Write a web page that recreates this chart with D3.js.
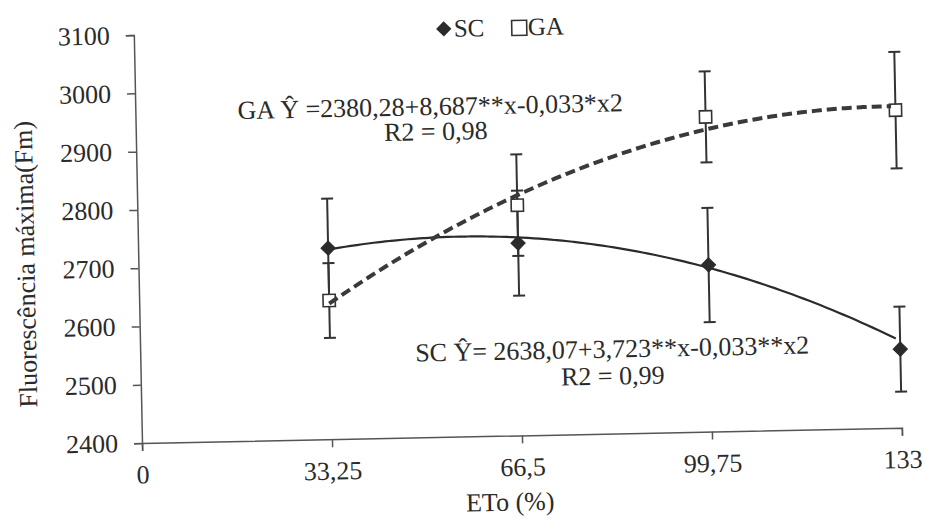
<!DOCTYPE html>
<html>
<head>
<meta charset="utf-8">
<script src="https://cdn.jsdelivr.net/npm/d3@7"></script>
<style>
  body { margin: 0; background: #fff; }
  text { font-family: "Liberation Serif", "Times New Roman", serif; fill: #2a2a2a; }
  .axis path, .axis line { stroke: #555; stroke-width: 1.5; }
  .axis text { font-size: 26px; fill: #2a2a2a; }
</style>
</head>
<body>
<div id="chart"></div>
<script>
// ETo levels (x) and their tick labels
const etoLevels = [33.25, 66.5, 99.75, 133];
const xTicks = [0, 33.25, 66.5, 99.75, 133];
const xTickLabels = ["0", "33,25", "66,5", "99,75", "133"];
const yTicks = [2400, 2500, 2600, 2700, 2800, 2900, 3000, 3100];

// Fm means and error bars
const scValues = [2728, 2730, 2686, 2535];
const scErrors = [85, 90, 98, 73];
const gaValues = [2638, 2795, 2940, 2945];
const gaErrors = [64, 87, 78, 100];

// printed regression coefficients: a + b*x + c*x^2
const scCoef = [2638.07, 3.723, -0.033];
const gaCoef = [2380.28, 8.687, -0.033];

const width = 926, height = 528;

const svg = d3.select("#chart")
    .append("svg")
    .attr("width", width)
    .attr("height", height);

// the source is a slightly tilted scan, so the whole plot is turned a little
const g = svg.append("g")
    .attr("transform", "rotate(-1.15, 142, 443)");

const x = d3.scaleLinear().domain([0, 133]).range([142, 902]);
const y = d3.scaleLinear().domain([2400, 3100]).range([443, 35]);

// Axes
g.append("g")
    .attr("class", "axis")
    .attr("transform", `translate(0,${y(2400)})`)
    .call(d3.axisBottom(x)
        .tickValues(xTicks)
        .tickFormat((d, i) => xTickLabels[i])
        .tickSizeOuter(0)
        .tickSize(8)
        .tickPadding(14));

g.append("g")
    .attr("class", "axis")
    .attr("transform", `translate(${x(0)},0)`)
    .call(d3.axisLeft(y)
        .tickValues(yTicks)
        .tickFormat(d3.format("d"))
        .tickSizeOuter(0)
        .tickSize(8)
        .tickPadding(16));

// Axis titles
g.append("text")
    .attr("transform", "translate(29,262) rotate(-90)")
    .attr("text-anchor", "middle")
    .attr("dy", "0.35em")
    .style("font-size", "26px")
    .text("Fluorescência máxima(Fm)");

g.append("text")
    .attr("x", 509)
    .attr("y", 518)
    .attr("text-anchor", "middle")
    .style("font-size", "26px")
    .text("ETo (%)");

// Error bars
function drawErrors(values, errors, cls) {
    const eb = g.append("g").attr("class", cls)
        .selectAll("g")
        .data(etoLevels.map((e, i) => ({ x: e, v: values[i], err: errors[i] })))
        .join("g");

    eb.append("line")
        .attr("x1", d => x(d.x)).attr("x2", d => x(d.x))
        .attr("y1", d => y(d.v + d.err)).attr("y2", d => y(d.v - d.err))
        .attr("stroke", "#333").attr("stroke-width", 2);

    eb.append("line")
        .attr("x1", d => x(d.x) - 6).attr("x2", d => x(d.x) + 6)
        .attr("y1", d => y(d.v + d.err)).attr("y2", d => y(d.v + d.err))
        .attr("stroke", "#333").attr("stroke-width", 2);

    eb.append("line")
        .attr("x1", d => x(d.x) - 6).attr("x2", d => x(d.x) + 6)
        .attr("y1", d => y(d.v - d.err)).attr("y2", d => y(d.v - d.err))
        .attr("stroke", "#333").attr("stroke-width", 2);
}

drawErrors(scValues, scErrors, "sc-err");
drawErrors(gaValues, gaErrors, "ga-err");

// Markers
const diamond = d3.symbol().type(d3.symbolDiamond2).size(130);
const square = d3.symbol().type(d3.symbolSquare2).size(190);

g.append("g").selectAll("path")
    .data(etoLevels.map((e, i) => ({ x: e, v: scValues[i] })))
    .join("path")
    .attr("transform", d => `translate(${x(d.x)},${y(d.v)})`)
    .attr("d", diamond)
    .attr("fill", "#2b2b2b")
    .attr("stroke", "#2b2b2b")
    .attr("stroke-width", 1);

g.append("g").selectAll("path")
    .data(etoLevels.map((e, i) => ({ x: e, v: gaValues[i] })))
    .join("path")
    .attr("transform", d => `translate(${x(d.x)},${y(d.v)})`)
    .attr("d", square)
    .attr("fill", "#fff")
    .attr("stroke", "#333")
    .attr("stroke-width", 1.6);

// Fitted quadratic trend lines from the printed equations
function trend(coef) {
    const pts = [];
    for (let t = etoLevels[0]; t <= 133.001; t += 1) {
        pts.push([t, coef[0] + coef[1] * t + coef[2] * t * t]);
    }
    return pts;
}

const line = d3.line()
    .x(d => x(d[0]))
    .y(d => y(d[1]))
    .curve(d3.curveBasis);

g.append("path")
    .datum(trend(scCoef))
    .attr("d", line)
    .attr("fill", "none")
    .attr("stroke", "#2b2b2b")
    .attr("stroke-width", 2.2);

g.append("path")
    .datum(trend(gaCoef))
    .attr("d", line)
    .attr("fill", "none")
    .attr("stroke", "#3a3a3a")
    .attr("stroke-width", 4)
    .attr("stroke-dasharray", "10,5");

// Equations
const eqs = [
    { text: "GA Ŷ =2380,28+8,687**x-0,033*x2", x: 437, y: 121 },
    { text: "R2 = 0,98", x: 442, y: 146 },
    { text: "SC Ŷ= 2638,07+3,723**x-0,033**x2", x: 614, y: 367 },
    { text: "R2 = 0,99", x: 614, y: 394 }
];

g.append("g").selectAll("text")
    .data(eqs)
    .join("text")
    .attr("x", d => d.x)
    .attr("y", d => d.y)
    .attr("text-anchor", "middle")
    .style("font-size", "26px")
    .text(d => d.text);

// Legend
const legend = g.append("g").attr("transform", "translate(0,35)");

legend.append("path")
    .attr("transform", "translate(452,0)")
    .attr("d", d3.symbol().type(d3.symbolDiamond2).size(150))
    .attr("fill", "#2b2b2b");

legend.append("text")
    .attr("x", 462).attr("y", 8)
    .style("font-size", "25px")
    .text("SC");

legend.append("rect")
    .attr("x", 520).attr("y", -7)
    .attr("width", 15).attr("height", 15)
    .attr("fill", "#fff")
    .attr("stroke", "#333")
    .attr("stroke-width", 1.6);

legend.append("text")
    .attr("x", 536).attr("y", 8)
    .style("font-size", "25px")
    .text("GA");
</script>
</body>
</html>
